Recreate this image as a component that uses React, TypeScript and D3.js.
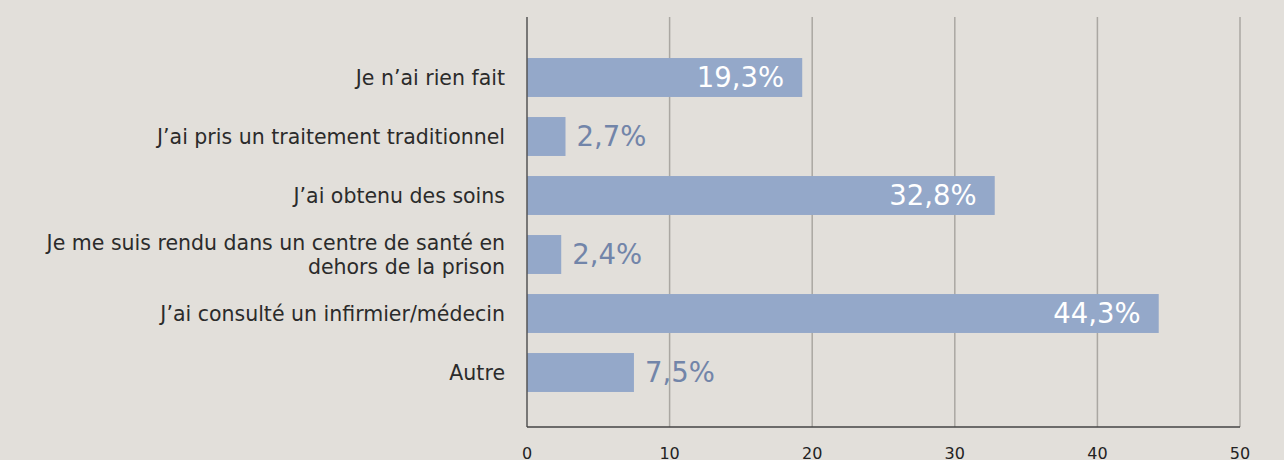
import React from "react";
import * as d3 from "d3";

const categories: string[][] = [
  ["Je n’ai rien fait"],
  ["J’ai pris un traitement traditionnel"],
  ["J’ai obtenu des soins"],
  ["Je me suis rendu dans un centre de santé en", "dehors de la prison"],
  ["J’ai consulté un infirmier/médecin"],
  ["Autre"],
];
const values: number[] = [19.3, 2.7, 32.8, 2.4, 44.3, 7.5];
const ticks: number[] = [0, 10, 20, 30, 40, 50];
const insideThreshold = 10;

const W = 1284;
const H = 460;
const FONT = "DejaVu Sans, Verdana, sans-serif";

export default function App() {
  const x = d3.scaleLinear().domain([0, 50]).range([527, 1240]);
  const y = d3
    .scaleBand<number>()
    .domain(values.map((_, i) => i))
    .range([48, 402])
    .paddingInner(0.34)
    .paddingOuter(0.17);
  const top = 17;
  const bottom = 427;
  const fmt = (v: number) => v.toFixed(1).replace(".", ",") + "%";

  return (
    <svg
      width={W}
      height={H}
      style={{ position: "absolute", left: 0, top: 0, background: "#e2dfda" }}
      fontFamily={FONT}
    >
      <rect x={0} y={0} width={W} height={H} fill="#e2dfda" />
      {ticks.slice(1).map((t) => (
        <line key={t} x1={x(t)} x2={x(t)} y1={top} y2={bottom} stroke="#aaa7a2" strokeWidth={1.5} />
      ))}
      {values.map((v, i) => (
        <rect key={i} x={x(0)} y={y(i)} width={x(v) - x(0)} height={y.bandwidth()} fill="#94a8c9" />
      ))}
      <line x1={x(0)} x2={x(0)} y1={top} y2={bottom} stroke="#555" strokeWidth={1.5} />
      <line x1={x(0)} x2={x(50)} y1={bottom} y2={bottom} stroke="#444" strokeWidth={1.5} />
      {ticks.map((t) => (
        <text key={t} x={x(t)} y={459} textAnchor="middle" fontSize={16} fill="#222">
          {t}
        </text>
      ))}
      {values.map((v, i) => {
        const cy = (y(i) as number) + y.bandwidth() / 2;
        const inside = v > insideThreshold;
        return (
          <text
            key={i}
            x={inside ? x(v) - 18 : x(v) + 11}
            y={cy}
            dy="0.36em"
            textAnchor={inside ? "end" : "start"}
            fontSize={27.5}
            fill={inside ? "#ffffff" : "#7285a9"}
          >
            {fmt(v)}
          </text>
        );
      })}
      {categories.map((lines, i) => {
        const cy = (y(i) as number) + y.bandwidth() / 2;
        const lh = 24;
        const start = cy - ((lines.length - 1) * lh) / 2;
        return (
          <text key={i} x={505} textAnchor="end" fontSize={20.5} fill="#2b2b2b">
            {lines.map((l, j) => (
              <tspan key={j} x={505} y={start + j * lh} dy="0.36em">
                {l}
              </tspan>
            ))}
          </text>
        );
      })}
    </svg>
  );
}
